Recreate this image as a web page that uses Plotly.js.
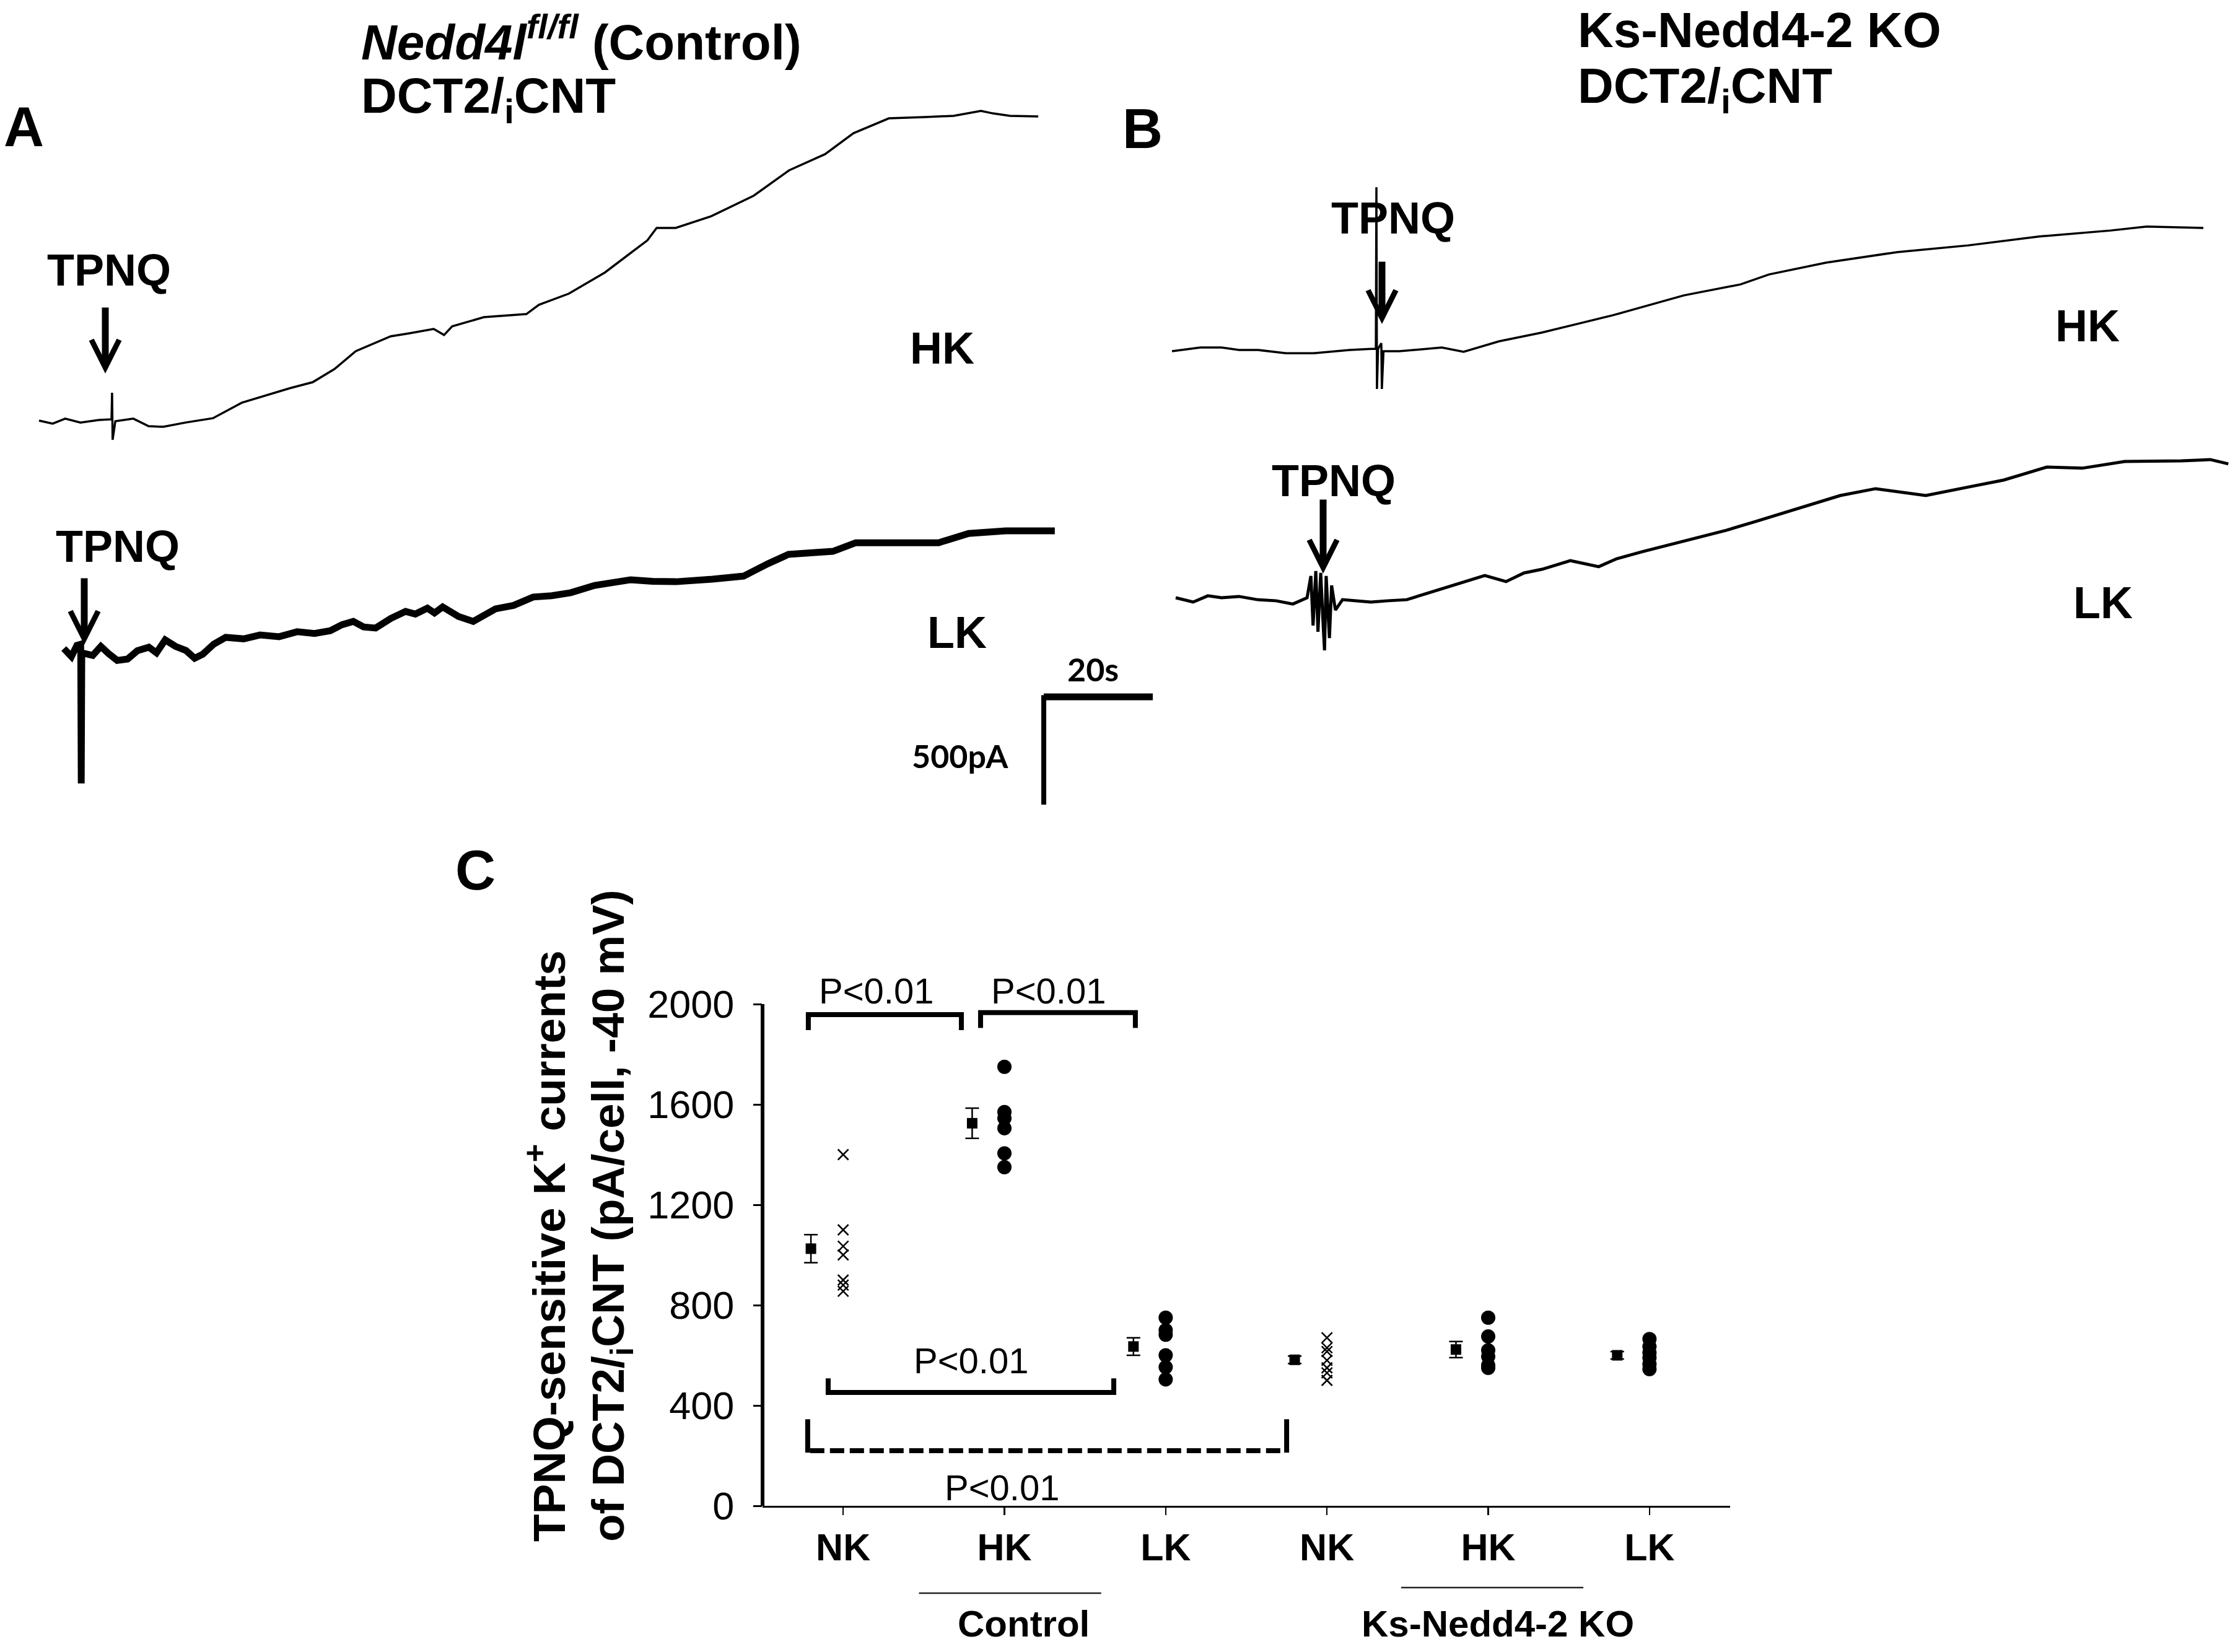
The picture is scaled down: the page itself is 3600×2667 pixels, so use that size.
<!DOCTYPE html>
<html>
<head>
<meta charset="utf-8">
<script src="https://cdn.plot.ly/plotly-3.0.1.min.js"></script>
<style>html,body{margin:0;padding:0;background:#fff;}</style>
</head>
<body>
<div id="chart" style="width:3600px;height:2667px;"></div>
<script>
// ---------------- DATA ----------------
// Panel C categories / ticks
const categories = ['NK', 'HK', 'LK', 'NK', 'HK', 'LK'];
const categoryPos = [1, 2, 3, 4, 5, 6];
const groupLabels = ['Control', 'Ks-Nedd4-2 KO'];
const yTickVals = [0, 400, 800, 1200, 1600, 2000];

// individual cells (pA/cell)
const ctrlNK = [1400, 1100, 1035, 1000, 900, 880, 855];
const ctrlHK = [1750, 1570, 1545, 1505, 1405, 1350];
const ctrlLK = [750, 700, 682, 600, 553, 504];
const koNK = [670, 630, 615, 580, 550, 530, 500];
const koHK = [750, 675, 620, 595, 560, 550];
const koLK = [665, 635, 610, 590, 565, 545];
// mean +/- SEM
const meanVals = [1025, 1525, 635, 582, 623, 600];
const semVals = [56, 60, 35, 15, 32, 15];

// Panel A, HK trace (time s, current pA relative to start)
const aHK_t = [0,2.5,4.8,7.6,11.0,13.3,13.4,13.5,14.0,17.3,20.1,22.8,26.9,31.9,37.2,42.4,46.0,50.2,54.2,58.1,64.5,68.0,72.4,74.3,75.8,81.6,89.4,91.7,97.2,103.8,111.6,113.3,116.8,123.3,131.1,137.6,144.2,149.4,155.9,162.5,167.8,172.8,175.0,178.1,183.3];
const aHK_i = [0,-14,9,-9,3,6,129,-89,-3,9,-26,-29,-9,11,83,124,150,178,239,322,391,405,425,397,437,480,494,537,589,687,836,894,894,948,1043,1161,1236,1333,1402,1408,1414,1437,1425,1414,1411];
// Panel A, LK trace
const aLK_t = [0,1.4,2.4,3.1,3.2,3.3,5.3,6.8,8.2,9.8,11.7,13.5,15.6,17.0,18.6,20.5,22.4,24.0,25.5,27.5,29.7,33.0,36.0,39.5,42.8,46.0,48.9,51.0,53.1,55.0,57.2,60.0,62.7,64.5,66.7,68.0,69.5,72.4,75.1,77.0,79.2,82.5,86.1,89.5,93.0,97.4,104.0,108.0,112.3,119.0,124.7,129.2,132.95,141.1,145.3,160.5,166.0,172.8,181.8];
const aLK_i = [0,-37,15,20,-626,-20,-32,10,-23,-55,-49,-10,6,-20,40,10,-9,-45,-26,20,52,45,63,55,78,70,83,110,126,100,95,140,172,160,187,165,193,149,126,150,184,200,239,245,259,293,319,312,310,322,336,394,437,451,491,491,534,546,546];
// Panel B, HK trace
const bHK_t = [0,5.2,9.1,12.3,15.7,20.9,26.0,32.6,36.5,37.4,37.5,37.6,37.8,38.4,38.5,38.8,41.7,46.4,49.5,53.5,60.0,67.8,80.9,93.9,104.3,109.5,120.0,133.1,146.1,159.1,172.2,178.8,189.2];
const bHK_i = [0,17,17,6,6,-9,-9,6,11,11,761,-175,11,37,-175,0,0,11,17,-3,46,86,167,259,310,356,411,460,491,532,560,578,572];
// Panel B, LK trace
const bLK_t = [0,3.2,5.9,8.4,11.6,15.0,18.4,21.5,24.1,24.8,25.2,25.7,26.1,26.6,27.0,27.3,27.6,28.2,28.6,29.3,30.6,33.2,35.8,38.9,42.4,47.6,52.5,56.7,60.6,63.9,67.2,72.4,77.6,80.9,85.5,93.2,101.0,106.3,114.1,121.9,128.4,133.2,137.6,145.5,151.9,159.8,166.3,174.1,184.5,189.8,193.1];
const bLK_i = [0,-20,9,0,6,-9,-14,-29,0,101,-129,124,-158,115,-101,-244,101,-187,57,-57,-9,-14,-20,-14,-9,32,72,103,75,115,132,172,144,181,213,264,313,353,414,474,506,489,474,514,546,606,601,632,635,641,621];

// scale bar
const scaleBarSeconds = 20;
const scaleBarPA = 500;

// ---------------- LAYOUT HELPERS ----------------
const W = 3600, H = 2667;
const FONT = 'Liberation Sans, Arial, sans-serif';
const px = x => x / W;
const py = y => 1 - y / H;
const pxPerSec = 8.8, pxPerPA = 0.348, topBottomPx = 1340;

const layout = {
  width: W, height: H,
  margin: {l: 0, r: 0, t: 0, b: 0},
  paper_bgcolor: '#ffffff', plot_bgcolor: 'rgba(0,0,0,0)',
  showlegend: false,
  font: {family: FONT, color: '#000'},
  shapes: [], annotations: []
};

function traceAxes(n, x0, y0) {
  layout['xaxis' + n] = {domain: [0, 1], range: [-x0 / pxPerSec, (W - x0) / pxPerSec], visible: false, anchor: 'y' + n, fixedrange: true};
  layout['yaxis' + n] = {domain: [py(topBottomPx), 1], range: [(y0 - topBottomPx) / pxPerPA, y0 / pxPerPA], visible: false, anchor: 'x' + n, fixedrange: true};
}
const origins = {2: [63, 679], 3: [103, 1047], 4: [1892, 567], 5: [1898, 965]};
Object.keys(origins).forEach(n => traceAxes(n, origins[n][0], origins[n][1]));

const traces = [];
function rec(t, i, n, w) {
  traces.push({type: 'scatter', mode: 'lines', x: t, y: i, xaxis: 'x' + n, yaxis: 'y' + n,
    line: {color: '#000', width: w, shape: 'linear'}, hoverinfo: 'skip'});
}
rec(aHK_t, aHK_i, 2, 3.5);
rec(aLK_t, aLK_i, 3, 11);
rec(bHK_t, bHK_i, 4, 3.5);
rec(bLK_t, bLK_i, 5, 5);

// scale bar in panel A LK axes
const sbT = (1685 - origins[3][0]) / pxPerSec;
const sbI = (origins[3][1] - 1125) / pxPerPA;
traces.push({type: 'scatter', mode: 'lines', xaxis: 'x3', yaxis: 'y3', x: [sbT, sbT + scaleBarSeconds], y: [sbI, sbI], line: {color: '#000', width: 11}, hoverinfo: 'skip'});
traces.push({type: 'scatter', mode: 'lines', xaxis: 'x3', yaxis: 'y3', x: [sbT, sbT], y: [sbI + 8, sbI - scaleBarPA], line: {color: '#000', width: 8}, hoverinfo: 'skip'});

// ---------------- PANEL C ----------------
const yPxPerUnit = 0.405;
const yTop = 2200;
layout.xaxis = {
  domain: [px(1231), px(2793)], range: [0.5, 6.5], anchor: 'y',
  tickvals: categoryPos, ticktext: categories,
  tickfont: {family: FONT, size: 61, color: '#000', weight: 'bold'},
  ticks: 'outside', ticklen: 12, tickwidth: 2.5, tickcolor: '#000',
  showline: true, linewidth: 3, linecolor: '#000', showgrid: false, zeroline: false,
  ticklabelstandoff: 0, fixedrange: true
};
layout.yaxis = {
  domain: [py(2431), py(2431 - yTop * yPxPerUnit)], range: [0, yTop], anchor: 'x',
  tickvals: yTickVals, ticktext: yTickVals.map(String),
  tickfont: {family: FONT, size: 63, color: '#000'},
  ticks: 'outside', ticklen: 14, tickwidth: 3, tickcolor: '#000',
  showline: false, showgrid: false, zeroline: false,
  ticklabelstandoff: 18, fixedrange: true
};
// y axis line (0..2000)
layout.shapes.push({type: 'line', xref: 'paper', yref: 'y', x0: px(1231), x1: px(1231), y0: 0, y1: yTickVals[yTickVals.length - 1], line: {color: '#000', width: 6}});

const groups = [ctrlNK, ctrlHK, ctrlLK, koNK, koHK, koLK];
const symbols = ['x-thin-open', 'circle', 'circle', 'x-thin-open', 'circle', 'circle'];
groups.forEach((g, k) => {
  const isX = symbols[k].startsWith('x');
  traces.push({type: 'scatter', mode: 'markers', x: g.map(() => categoryPos[k]), y: g, xaxis: 'x', yaxis: 'y',
    marker: isX ? {symbol: 'x-thin-open', size: 17, color: '#000', line: {color: '#000', width: 2.5}}
                : {symbol: 'circle', size: 23, color: '#000', line: {width: 0}},
    cliponaxis: false, hoverinfo: 'y'});
});
traces.push({type: 'scatter', mode: 'markers', x: categoryPos.map(p => p - 0.2), y: meanVals, xaxis: 'x', yaxis: 'y',
  marker: {symbol: 'square', size: 17, color: '#000'},
  error_y: {type: 'data', array: semVals, visible: true, color: '#000', thickness: 2.5, width: 11},
  cliponaxis: false, hoverinfo: 'y'});

// significance brackets (data coords)
const bw = 8;
layout.shapes.push({type: 'path', xref: 'x', yref: 'y', path: 'M0.784,1896 L0.784,1958 L1.733,1958 L1.733,1896', line: {color: '#000', width: bw}});
layout.shapes.push({type: 'path', xref: 'x', yref: 'y', path: 'M1.852,1905 L1.852,1966 L2.812,1966 L2.812,1905', line: {color: '#000', width: bw}});
layout.shapes.push({type: 'path', xref: 'x', yref: 'y', path: 'M0.907,508 L0.907,452 L2.678,452 L2.678,508', line: {color: '#000', width: bw}});
// dashed bracket: solid legs + dashed bar
layout.shapes.push({type: 'line', xref: 'x', yref: 'y', x0: 0.780, x1: 0.780, y0: 345, y1: 212, line: {color: '#000', width: bw}});
layout.shapes.push({type: 'line', xref: 'x', yref: 'y', x0: 3.750, x1: 3.750, y0: 345, y1: 212, line: {color: '#000', width: bw}});
layout.shapes.push({type: 'line', xref: 'x', yref: 'y', x0: 0.795, x1: 3.735, y0: 220, y1: 220, line: {color: '#000', width: bw, dash: '23px,9px'}});

const pText = 'P&lt;0.01';
[[1.203, 2054], [2.271, 2054], [1.791, 580], [1.983, 74]].forEach(p => {
  layout.annotations.push({xref: 'x', yref: 'y', x: p[0], y: p[1], text: pText, showarrow: false,
    font: {family: FONT, size: 58, color: '#000'}, xanchor: 'center', yanchor: 'middle'});
});

// group underline + labels
layout.shapes.push({type: 'line', xref: 'x', yref: 'paper', x0: 1.47, x1: 2.60, y0: py(2572), y1: py(2572), line: {color: '#222', width: 2.5}});
layout.shapes.push({type: 'line', xref: 'x', yref: 'paper', x0: 4.46, x1: 5.59, y0: py(2563), y1: py(2563), line: {color: '#222', width: 2.5}});
layout.annotations.push({xref: 'x', yref: 'paper', x: 2.12, y: py(2621), text: groupLabels[0], showarrow: false,
  font: {family: FONT, size: 60, color: '#000', weight: 'bold'}, xanchor: 'center', yanchor: 'middle'});
layout.annotations.push({xref: 'x', yref: 'paper', x: 5.06, y: py(2621), text: groupLabels[1], showarrow: false,
  font: {family: FONT, size: 60, color: '#000', weight: 'bold'}, xanchor: 'center', yanchor: 'middle'});

// y axis title
layout.annotations.push({xref: 'paper', yref: 'paper', x: px(934), y: py(1962), textangle: -90, align: 'left',
  text: 'TPNQ-sensitive K<sup>+</sup> currents<br>of DCT2/<sub>i</sub>CNT (pA/cell, -40 mV)', showarrow: false,
  font: {family: FONT, size: 73, color: '#000', weight: 'bold'}, xanchor: 'center', yanchor: 'middle'});

// ---------------- TEXT LABELS (top) ----------------
function txt(x, y, text, size, opts) {
  layout.annotations.push(Object.assign({xref: 'paper', yref: 'paper', x: px(x), y: py(y), text: text, showarrow: false,
    font: {family: FONT, size: size, color: '#000', weight: 'bold'}, xanchor: 'center', yanchor: 'middle'}, opts || {}));
}
txt(38, 205, 'A', 90);
txt(1845, 208, 'B', 90);
txt(767, 1405, 'C', 90);
txt(581, 62, '<i>Nedd4l</i><sup><i>fl/fl</i></sup> (Control)', 80, {xanchor: 'left'});
txt(581, 160, 'DCT2/<sub>i</sub>CNT', 80, {xanchor: 'left'});
txt(2545, 48, 'Ks-Nedd4-2 KO', 80, {xanchor: 'left'});
txt(2545, 144, 'DCT2/<sub>i</sub>CNT', 80, {xanchor: 'left'});
txt(176, 436, 'TPNQ', 72);
txt(190, 882, 'TPNQ', 72);
txt(2249, 352, 'TPNQ', 72);
txt(2153, 776, 'TPNQ', 72);
txt(1521, 562, 'HK', 72);
txt(1545, 1021, 'LK', 72);
txt(3370, 526, 'HK', 72);
txt(3395, 973, 'LK', 72);
txt(1764, 1080, '20s', 52, {font: {family: 'Lato, Open Sans, sans-serif', size: 52, color: '#000', weight: 'bold'}});
txt(1550, 1220, '500pA', 52, {font: {family: 'Lato, Open Sans, sans-serif', size: 52, color: '#000', weight: 'bold'}});

// arrows
function arrow(x, tipY, tailY) {
  layout.annotations.push({xref: 'paper', yref: 'paper', x: px(x), y: py(tipY), ax: 0, ay: -(tipY - tailY), text: '',
    showarrow: true, arrowhead: 5, arrowwidth: 11, arrowsize: 0.8, arrowcolor: '#000', standoff: 0});
}
arrow(170, 603, 495);
arrow(136, 1041, 932);
arrow(2231, 523, 421);
arrow(2136, 926, 805);

Plotly.newPlot('chart', traces, layout, {staticPlot: true, displayModeBar: false});
</script>
</body>
</html>
